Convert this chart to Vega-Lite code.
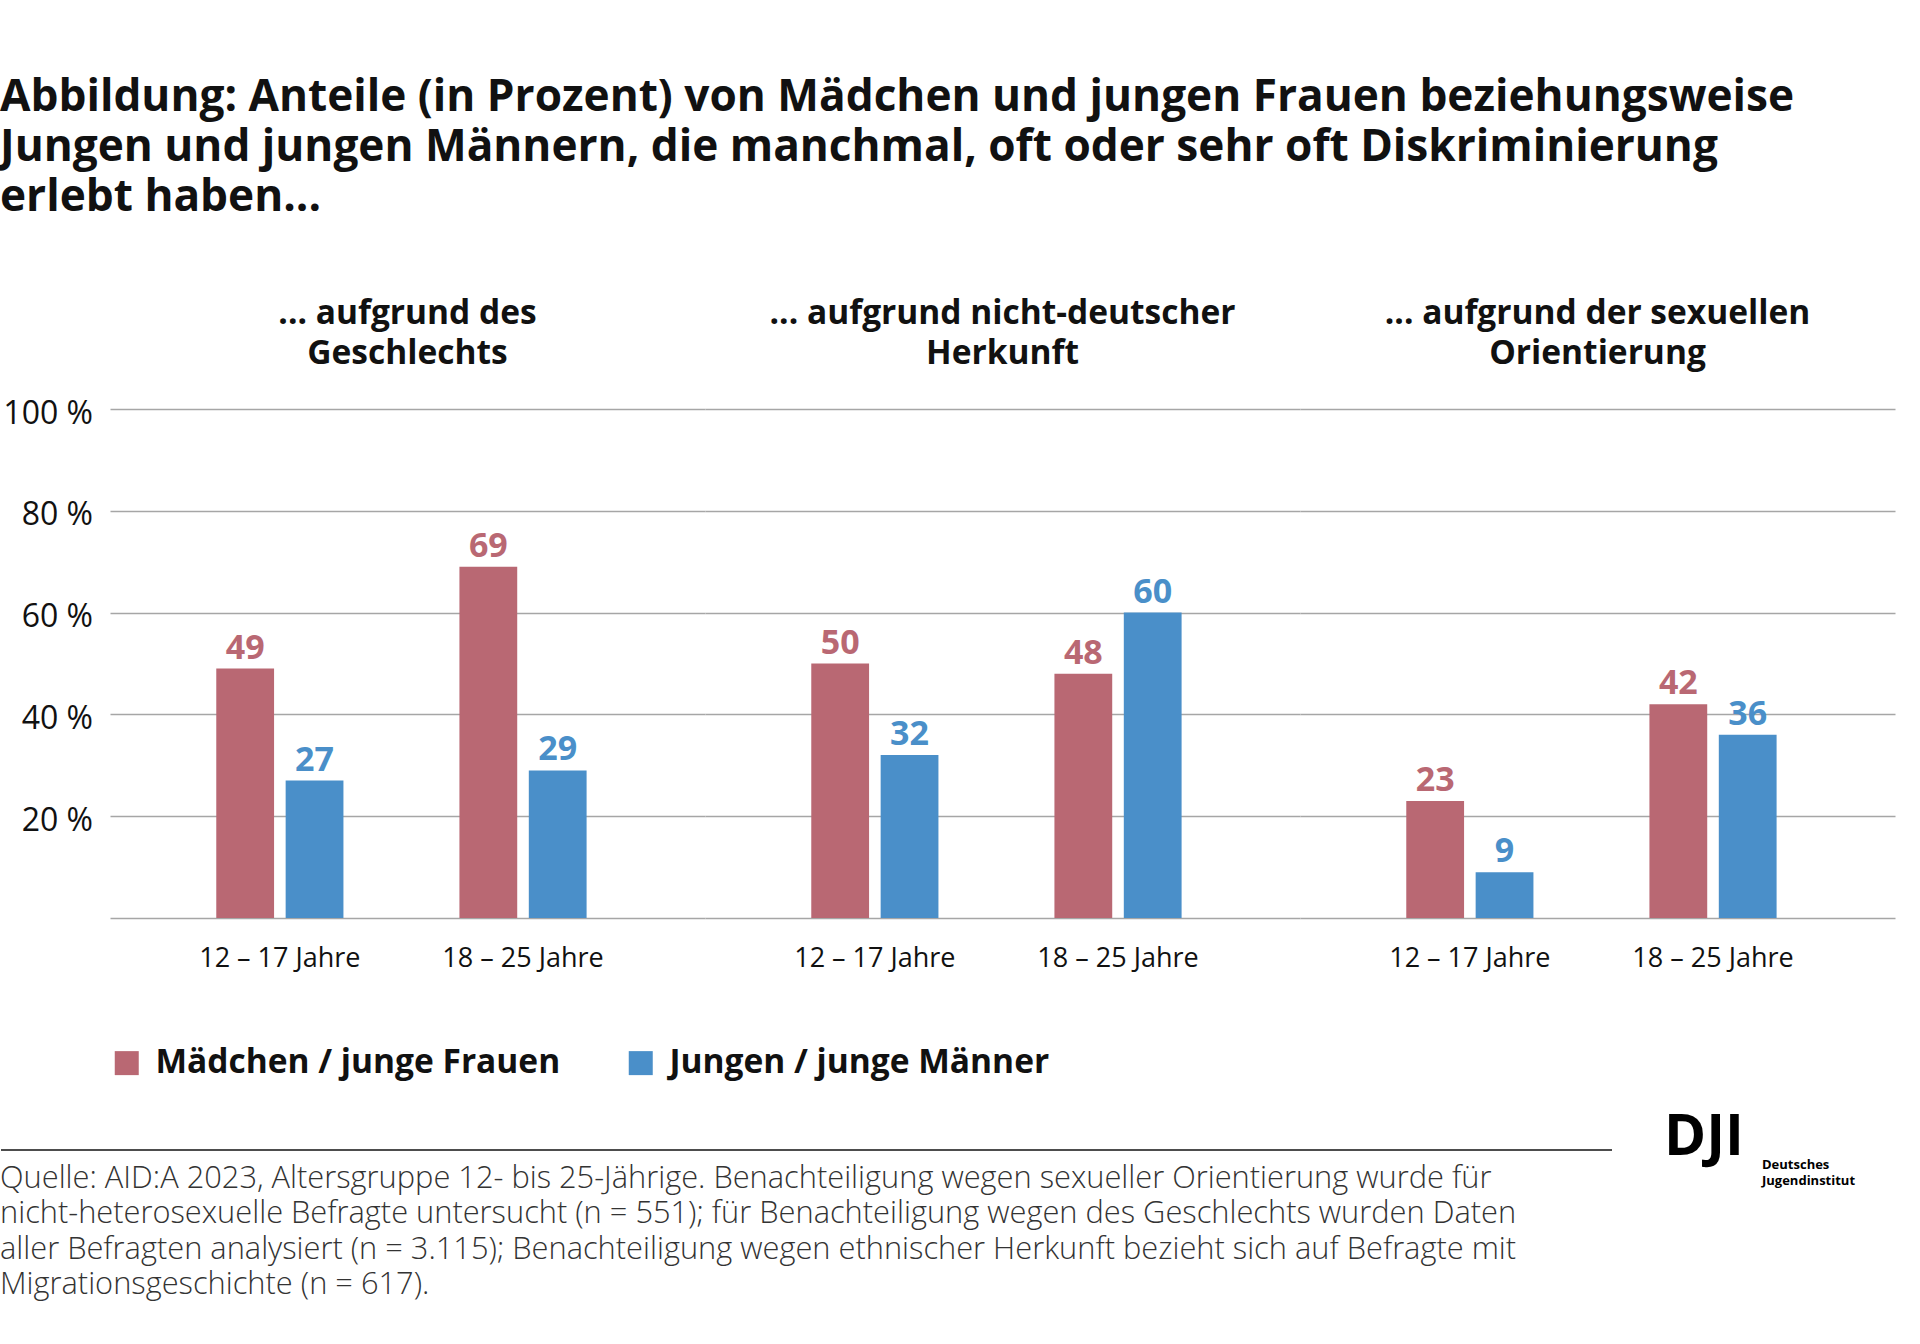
{
  "$schema": "https://vega.github.io/schema/vega-lite/v6.json",
  "background": "white",
  "padding": {"top": 76, "left": 0, "right": 10, "bottom": 10},
  "config": {
    "font": "Open Sans",
    "view": {"stroke": null},
    "title": {"color": "#111111"}
  },
  "title": {
    "text": [
      "Abbildung: Anteile (in Prozent) von Mädchen und jungen Frauen beziehungsweise",
      "Jungen und jungen Männern, die manchmal, oft oder sehr oft Diskriminierung",
      "erlebt haben..."
    ],
    "anchor": "start",
    "fontSize": 44.2,
    "fontWeight": "bold",
    "lineHeight": 50,
    "offset": 76,
    "color": "#111111",
    "font": "Open Sans"
  },
  "resolve": {"legend": {"color": "independent"}},
  "spacing": 29,
  "vconcat": [
    {
      "resolve": {"legend": {"color": "independent"}},
      "spacing": 0,
      "hconcat": [
        {
          "width": 1,
          "height": 509,
          "data": {"values": [{"v": 1}]},
          "mark": {"type": "rule", "opacity": 0},
          "encoding": {"y": {"field": "v", "type": "quantitative", "scale": {"domain": [0, 1]}, "axis": null}}
        },
        {
          "data": {
            "values": [
              {"kat": "... aufgrund des|Geschlechts", "age": "12 – 17 Jahre", "gender": "Mädchen / junge Frauen", "value": 49},
              {"kat": "... aufgrund des|Geschlechts", "age": "12 – 17 Jahre", "gender": "Jungen / junge Männer", "value": 27},
              {"kat": "... aufgrund des|Geschlechts", "age": "18 – 25 Jahre", "gender": "Mädchen / junge Frauen", "value": 69},
              {"kat": "... aufgrund des|Geschlechts", "age": "18 – 25 Jahre", "gender": "Jungen / junge Männer", "value": 29},
              {"kat": "... aufgrund nicht-deutscher|Herkunft", "age": "12 – 17 Jahre", "gender": "Mädchen / junge Frauen", "value": 50},
              {"kat": "... aufgrund nicht-deutscher|Herkunft", "age": "12 – 17 Jahre", "gender": "Jungen / junge Männer", "value": 32},
              {"kat": "... aufgrund nicht-deutscher|Herkunft", "age": "18 – 25 Jahre", "gender": "Mädchen / junge Frauen", "value": 48},
              {"kat": "... aufgrund nicht-deutscher|Herkunft", "age": "18 – 25 Jahre", "gender": "Jungen / junge Männer", "value": 60},
              {"kat": "... aufgrund der sexuellen|Orientierung", "age": "12 – 17 Jahre", "gender": "Mädchen / junge Frauen", "value": 23},
              {"kat": "... aufgrund der sexuellen|Orientierung", "age": "12 – 17 Jahre", "gender": "Jungen / junge Männer", "value": 9},
              {"kat": "... aufgrund der sexuellen|Orientierung", "age": "18 – 25 Jahre", "gender": "Mädchen / junge Frauen", "value": 42},
              {"kat": "... aufgrund der sexuellen|Orientierung", "age": "18 – 25 Jahre", "gender": "Jungen / junge Männer", "value": 36}
            ]
          },
          "facet": {
            "column": {
              "field": "kat",
              "type": "nominal",
              "sort": ["... aufgrund des|Geschlechts", "... aufgrund nicht-deutscher|Herkunft", "... aufgrund der sexuellen|Orientierung"],
              "title": null,
              "header": {
                "labelExpr": "split(datum.label, '|')",
                "labelFontSize": 33.5,
                "labelFontWeight": "bold",
                "labelColor": "#111111",
                "labelLineHeight": 40,
                "labelPadding": 38,
                "labelFont": "Open Sans"
              }
            }
          },
          "spacing": 0,
          "spec": {
            "width": 595,
            "height": 509,
            "encoding": {
              "x": {
                "field": "age",
                "type": "nominal",
                "sort": ["12 – 17 Jahre", "18 – 25 Jahre"],
                "scale": {"paddingInner": 0.477, "paddingOuter": 0.462, "align": 0.473},
                "axis": {"title": null, "labelAngle": 0, "ticks": false, "domain": false, "labelFontSize": 27, "labelPadding": 27, "labelColor": "#111111", "labelFont": "Open Sans"}
              },
              "xOffset": {
                "field": "gender",
                "type": "nominal",
                "sort": ["Mädchen / junge Frauen", "Jungen / junge Männer"],
                "scale": {"paddingInner": 0.167}
              },
              "y": {
                "field": "value",
                "type": "quantitative",
                "scale": {"domain": [0, 100]},
                "axis": {
                  "title": null,
                  "values": [0, 20, 40, 60, 80, 100],
                  "labelExpr": "datum.value == 0 ? '' : datum.label + ' %'",
                  "ticks": false,
                  "domain": false,
                  "labelFontSize": 32,
                  "labelPadding": 17.5,
                  "labelOffset": 4,
                  "labelColor": "#111111",
                  "labelFont": "Open Sans",
                  "gridColor": "#a6a6a6",
                  "gridWidth": 1.5
                }
              },
              "color": {
                "field": "gender",
                "type": "nominal",
                "sort": ["Mädchen / junge Frauen", "Jungen / junge Männer"],
                "scale": {"domain": ["Mädchen / junge Frauen", "Jungen / junge Männer"], "range": ["#B96873", "#4A8FC9"]},
                "legend": {
                  "orient": "bottom",
                  "direction": "horizontal",
                  "title": null,
                  "symbolType": "square",
                  "symbolSize": 576,
                  "symbolStrokeWidth": 0,
                  "labelFontSize": 33.5,
                  "labelFontWeight": "bold",
                  "labelColor": "#111111",
                  "labelFont": "Open Sans",
                  "labelOffset": 12,
                  "labelLimit": 700,
                  "columnPadding": 63,
                  "offset": 75,
                  "padding": 0
                }
              }
            },
            "layer": [
              {"mark": {"type": "bar"}},
              {
                "mark": {"type": "text", "baseline": "bottom", "dy": -3, "fontSize": 34, "fontWeight": "bold", "font": "Open Sans"},
                "encoding": {"text": {"field": "value", "type": "quantitative"}}
              }
            ]
          }
        }
      ]
    },
    {
      "spacing": 52,
      "bounds": "flush",
      "hconcat": [
        {
          "width": 1611,
          "height": 1,
          "data": {"values": [{"v": 1}]},
          "mark": {"type": "rule", "color": "#4d4d4d", "strokeWidth": 2},
          "encoding": {"y": {"field": "v", "type": "quantitative", "scale": {"domain": [0, 1]}, "axis": null}},
          "title": {
            "text": [
              "Quelle: AID:A 2023, Altersgruppe 12- bis 25-Jährige. Benachteiligung wegen sexueller Orientierung wurde für",
              "nicht-heterosexuelle Befragte untersucht (n = 551); für Benachteiligung wegen des Geschlechts wurden Daten",
              "aller Befragten analysiert (n = 3.115); Benachteiligung wegen ethnischer Herkunft bezieht sich auf Befragte mit",
              "Migrationsgeschichte (n = 617)."
            ],
            "orient": "bottom",
            "anchor": "start",
            "fontSize": 30.8,
            "fontWeight": 300,
            "lineHeight": 35.3,
            "offset": 13,
            "color": "#333333",
            "font": "Open Sans"
          }
        },
        {
          "spacing": 16,
          "bounds": "flush",
          "hconcat": [
            {
              "width": 82,
              "height": 1,
              "data": {"values": [{"v": 1}]},
              "mark": {"type": "rule", "opacity": 0},
              "encoding": {"y": {"field": "v", "type": "quantitative", "scale": {"domain": [0, 1]}, "axis": null}},
              "title": {"text": "DJI", "orient": "bottom", "anchor": "start", "fontSize": 57, "fontWeight": "bold", "offset": -41, "color": "#000000", "font": "Open Sans"}
            },
            {
              "width": 100,
              "height": 1,
              "data": {"values": [{"v": 1}]},
              "mark": {"type": "rule", "opacity": 0},
              "encoding": {"y": {"field": "v", "type": "quantitative", "scale": {"domain": [0, 1]}, "axis": null}},
              "title": {"text": ["Deutsches", "Jugendinstitut"], "orient": "bottom", "anchor": "start", "fontSize": 13, "fontWeight": "bold", "lineHeight": 16, "offset": 8, "color": "#000000", "font": "Open Sans"}
            }
          ]
        }
      ]
    }
  ]
}
